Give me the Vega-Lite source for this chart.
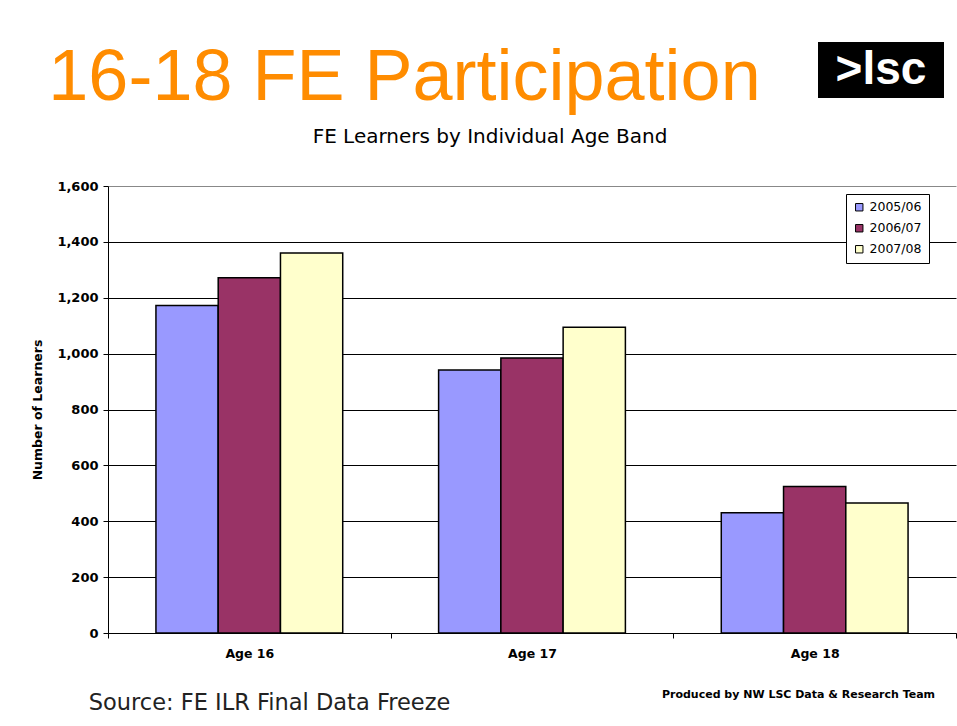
{
  "$schema": "https://vega.github.io/schema/vega-lite/v6.json",
  "background": "white",
  "padding": {"left": 31, "top": 42, "right": 0, "bottom": 0},
  "bounds": "full",
  "spacing": 0,
  "resolve": {"legend": {"color": "independent"}, "scale": {"color": "independent"}},
  "config": {"view": {"stroke": null}, "font": "DejaVu Sans"},
  "vconcat": [
    {
      "bounds": "flush",
      "spacing": 117,
      "hconcat": [
        {
          "width": 593,
          "height": 2,
          "data": {"values": [{"t": "16-18 FE Participation"}]},
          "mark": {"type": "text", "font": "Liberation Sans", "fontSize": 72, "color": "#FF8C00", "baseline": "top", "align": "center"},
          "encoding": {"text": {"field": "t", "type": "nominal"}}
        },
        {
          "width": 126,
          "height": 56,
          "view": {"fill": "black", "stroke": null},
          "data": {"values": [{"t": ">lsc"}]},
          "mark": {"type": "text", "font": "Liberation Sans", "fontWeight": "bold", "fontSize": 46, "color": "white", "baseline": "middle", "align": "center"},
          "encoding": {"text": {"field": "t", "type": "nominal"}}
        }
      ]
    },
    {
      "width": 764,
      "height": 66,
      "data": {"values": [{"t": "FE Learners by Individual Age Band"}]},
      "mark": {"type": "text", "font": "DejaVu Sans", "fontSize": 20, "color": "black", "baseline": "bottom", "align": "center"},
      "encoding": {"text": {"field": "t", "type": "nominal"}}
    },
    {
      "width": 848,
      "height": 447,
      "data": {"values": [
        {"age": "Age 16", "year": "2005/06", "learners": 1172},
        {"age": "Age 16", "year": "2006/07", "learners": 1272},
        {"age": "Age 16", "year": "2007/08", "learners": 1360},
        {"age": "Age 17", "year": "2005/06", "learners": 941},
        {"age": "Age 17", "year": "2006/07", "learners": 984},
        {"age": "Age 17", "year": "2007/08", "learners": 1094},
        {"age": "Age 18", "year": "2005/06", "learners": 430},
        {"age": "Age 18", "year": "2006/07", "learners": 524},
        {"age": "Age 18", "year": "2007/08", "learners": 465}
      ]},
      "mark": {"type": "bar", "stroke": "black", "strokeWidth": 1.5},
      "encoding": {
        "x": {
          "field": "age", "type": "nominal", "sort": null,
          "scale": {"paddingInner": 0, "paddingOuter": 0},
          "axis": {"title": null, "labelAngle": 0, "labelFont": "DejaVu Sans", "labelFontSize": 12.5, "labelFontWeight": "bold", "labelColor": "black", "labelPadding": 9, "tickBand": "extent", "tickSize": 5, "tickColor": "black", "domainColor": "black", "grid": false}
        },
        "xOffset": {"field": "year", "type": "nominal", "sort": null, "scale": {"paddingInner": 0, "paddingOuter": 0.77}},
        "y": {
          "field": "learners", "type": "quantitative",
          "scale": {"domain": [0, 1600], "nice": false},
          "axis": {
            "title": "Number of Learners", "titleFont": "DejaVu Sans", "titleFontSize": 12.5, "titleFontWeight": "bold", "titleColor": "black", "titlePadding": 12,
            "values": [0, 200, 400, 600, 800, 1000, 1200, 1400, 1600], "format": ",.0f",
            "labelFont": "DejaVu Sans", "labelFontSize": 13, "labelFontWeight": "bold", "labelColor": "black", "labelPadding": 5,
            "tickSize": 5, "tickColor": "black", "domainColor": "black",
            "grid": true, "gridOpacity": 1, "gridWidth": 1,
            "gridColor": {"condition": {"test": "datum.value === 1600", "value": "#888888"}, "value": "black"}
          }
        },
        "color": {
          "field": "year", "type": "nominal", "sort": null,
          "scale": {"domain": ["2005/06", "2006/07", "2007/08"], "range": ["#9999FF", "#993366", "#FFFFCC"]},
          "legend": {"orient": "none", "legendX": 738, "legendY": 8, "title": null, "strokeColor": "black", "fillColor": "white", "padding": 7, "symbolType": "square", "symbolSize": 55, "symbolStrokeColor": "black", "symbolStrokeWidth": 1, "labelFont": "DejaVu Sans", "labelFontSize": 12.5, "labelColor": "black", "labelOffset": 4, "rowPadding": 8}
        }
      }
    },
    {
      "bounds": "flush",
      "spacing": 117,
      "hconcat": [
        {
          "width": 323,
          "height": 99,
          "data": {"values": [{"t": "Source: FE ILR Final Data Freeze"}]},
          "mark": {"type": "text", "font": "DejaVu Sans", "fontSize": 22.5, "color": "#222222", "baseline": "alphabetic", "align": "center"},
          "encoding": {"text": {"field": "t", "type": "nominal"}}
        },
        {
          "width": 501,
          "height": 75,
          "data": {"values": [{"t": "Produced by NW LSC Data & Research Team"}]},
          "mark": {"type": "text", "font": "DejaVu Sans", "fontWeight": "bold", "fontSize": 11, "color": "black", "baseline": "alphabetic", "align": "center"},
          "encoding": {"text": {"field": "t", "type": "nominal"}}
        }
      ]
    }
  ]
}
